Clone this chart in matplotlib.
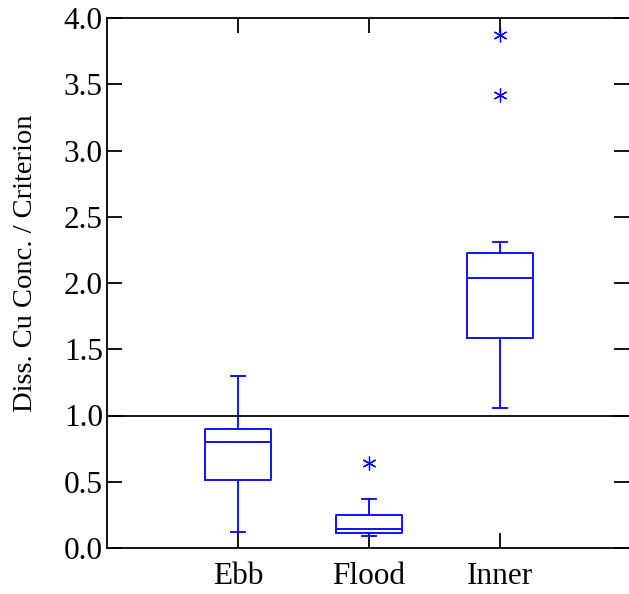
import matplotlib.pyplot as plt

plt.rcParams['font.family'] = ['Liberation Serif', 'DejaVu Serif']

# box statistics
groups = ['Ebb', 'Flood', 'Inner']
whislo = [0.12, 0.093, 1.06]
q1 = [0.515, 0.115, 1.587]
med = [0.80, 0.141, 2.04]
q3 = [0.90, 0.247, 2.23]
whishi = [1.30, 0.372, 2.31]
fliers = [[], [0.644], [3.42, 3.87]]

stats = []
for i, g in enumerate(groups):
    stats.append(dict(label=g, whislo=whislo[i], q1=q1[i], med=med[i],
                      q3=q3[i], whishi=whishi[i], fliers=fliers[i]))

fig = plt.figure(figsize=(6.29, 5.94), dpi=100)
ax = fig.add_axes([107 / 629, 46 / 594, 522 / 629, 530 / 594])

blue = '#0000ff'
lw = 1.3
ax.bxp(stats, positions=[1, 2, 3], widths=0.5, capwidths=0.11,
       boxprops=dict(color=blue, linewidth=lw),
       medianprops=dict(color=blue, linewidth=lw),
       whiskerprops=dict(color=blue, linewidth=lw),
       capprops=dict(color=blue, linewidth=lw),
       flierprops=dict(marker=(6, 2, 0), markersize=10, markeredgecolor=blue,
                       markerfacecolor=blue, markeredgewidth=0.9, linestyle='none'))

ax.axhline(1.0, color='black', linewidth=1.3)

ax.set_xlim(0, 3.985)
ax.set_ylim(0, 4.0)
ax.set_yticks([0, 0.5, 1.0, 1.5, 2.0, 2.5, 3.0, 3.5, 4.0])
ax.set_yticklabels(['0.0', '0.5', '1.0', '1.5', '2.0', '2.5', '3.0', '3.5', '4.0'])
ax.set_xticks([1, 2, 3])
ax.set_xticklabels(groups)

ax.spines['right'].set_visible(False)
for s in ['left', 'top', 'bottom']:
    ax.spines[s].set_linewidth(1.3)

ax.tick_params(direction='in', length=11, width=1.3, labelsize=22.5,
               top=True, right=True, pad=3)
ax.tick_params(axis='x', pad=10)
ax.set_ylabel('Diss. Cu Conc. / Criterion', fontsize=20.5)
ax.yaxis.set_label_coords(-0.133, 0.538)

fig.savefig('out.png', dpi=100)
